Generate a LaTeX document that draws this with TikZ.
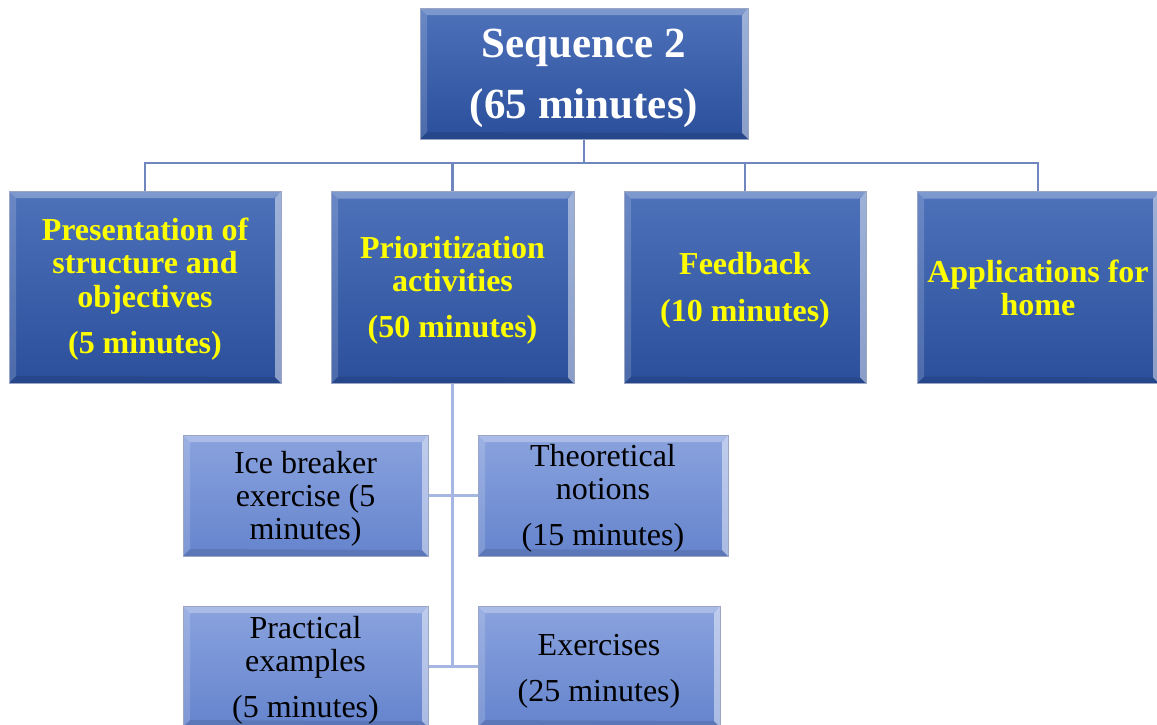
\documentclass[tikz,border=0pt]{standalone}
\usepackage{fontspec}
\setmainfont{Liberation Serif}
\definecolor{darktop}{HTML}{4D72BA}
\definecolor{darkbot}{HTML}{2B4F9B}
\definecolor{lighttop}{HTML}{8AA3DE}
\definecolor{lightbot}{HTML}{6584CD}
\definecolor{boxline}{HTML}{9AA6C4}
\definecolor{connup}{HTML}{6F86BF}
\definecolor{connlow}{HTML}{A6B6E2}
\definecolor{yel}{HTML}{FFFF00}
\tikzset{
  bev/.style={path picture={
    \path (path picture bounding box.north west) coordinate (pNW)
          (path picture bounding box.north east) coordinate (pNE)
          (path picture bounding box.south west) coordinate (pSW)
          (path picture bounding box.south east) coordinate (pSE);
    \fill[white,opacity=.28] (pNW) -- (pNE) -- ([shift={(-7pt,-7pt)}]pNE) -- ([shift={(7pt,-7pt)}]pNW) -- cycle;
    \fill[white,opacity=.16] (pNW) -- ([shift={(7pt,-7pt)}]pNW) -- ([shift={(7pt,7pt)}]pSW) -- (pSW) -- cycle;
    \fill[white,opacity=.45] (pNE) -- (pSE) -- ([shift={(-6pt,6pt)}]pSE) -- ([shift={(-6pt,-7pt)}]pNE) -- cycle;
    \fill[black,opacity=.10] (pSW) -- ([shift={(7pt,7pt)}]pSW) -- ([shift={(-6pt,6pt)}]pSE) -- (pSE) -- cycle;
  }},
  darkbox/.style={rectangle, inner sep=0pt, draw=boxline, line width=1pt,
    top color=darktop, bottom color=darkbot, bev},
  lightbox/.style={rectangle, inner sep=0pt, draw=boxline, line width=1pt,
    top color=lighttop, bottom color=lightbot, bev, minimum height=121pt},
  midbox/.style={darkbox, minimum height=192pt},
  toptext/.style={inner sep=0pt, align=center, text=white,
    font=\fontsize{43}{61}\selectfont\bfseries},
  midtext/.style={inner sep=0pt, align=center, text=yel,
    font=\fontsize{32}{33.5}\selectfont\bfseries},
  lowtext/.style={inner sep=0pt, align=center, text=black,
    font=\fontsize{32}{33}\selectfont},
  conntop/.style={draw=connup, line width=2.5pt},
  connbot/.style={draw=connlow, line width=2.5pt},
}
\begin{document}
\begin{tikzpicture}[x=1pt,y=-1pt]
\useasboundingbox (0,0) rectangle (1157,724);
\clip (0,0) rectangle (1157,724);
\fill[white] (0,0) rectangle (1157,724);

\coordinate (bus) at (0,163);

% boxes
\node[darkbox, minimum width=328pt, minimum height=131pt] (top) at (584,73.5) {};
\node[midbox, minimum width=272pt] (b1) at (145,287) {};
\node[midbox, minimum width=243pt] (b2) at (452.5,287.5) {};
\node[midbox, minimum width=242pt] (b3) at (745,287.5) {};
\node[midbox, minimum width=242pt] (b4) at (1038,287.5) {};
\node[lightbox, minimum width=245pt] (c1) at (305.5,495.5) {};
\node[lightbox, minimum width=250pt] (c2) at (603,495.5) {};
\node[lightbox, minimum width=245pt] (c3) at (305.5,666.5) {};
\node[lightbox, minimum width=242pt] (c4) at (599,666.5) {};

% texts
\node[toptext] (topt) at ([yshift=-4.5pt]top.center) {Sequence 2\\(65 minutes)};
\node[midtext] (b1t) at ([yshift=-2pt]b1.center)
  {Presentation of\\structure and\\objectives\\[12.5pt](5 minutes)};
\node[midtext] (b2t) at ([yshift=-3pt]b2.center)
  {Prioritization\\activities\\[12.5pt](50 minutes)};
\node[midtext] (b3t) at ([yshift=-3pt]b3.center)
  {Feedback\\[13.5pt](10 minutes)};
\node[midtext] (b4t) at ([yshift=-0.5pt]b4.center)
  {Applications for\\home};
\node[lowtext] (c1t) at ([yshift=-3pt]c1.center)
  {Ice breaker\\exercise (5\\minutes)};
\node[lowtext] (c2t) at ([yshift=-3pt]c2.center)
  {Theoretical\\notions\\[13pt](15 minutes)};
\node[lowtext] (c3t) at ([yshift=-4pt]c3.center)
  {Practical\\examples\\[13pt](5 minutes)};
\node[lowtext] (c4t) at ([yshift=-5pt]c4.center)
  {Exercises\\[13pt](25 minutes)};

% upper connectors
\draw[conntop] (top.south) -- (top.south |- bus);
\draw[conntop] (b1.north) -- (b1.north |- bus) -- (b4.north |- bus) -- (b4.north);
\draw[conntop] (b2.north) -- (b2.north |- bus);
\draw[conntop] (b3.north) -- (b3.north |- bus);

% lower connectors
\draw[connbot] (b2.south) -- (b2.south |- c3.east);
\draw[connbot] (c1.east) -- (c2.west);
\draw[connbot] (c3.east) -- (c4.west);
\end{tikzpicture}
\end{document}
